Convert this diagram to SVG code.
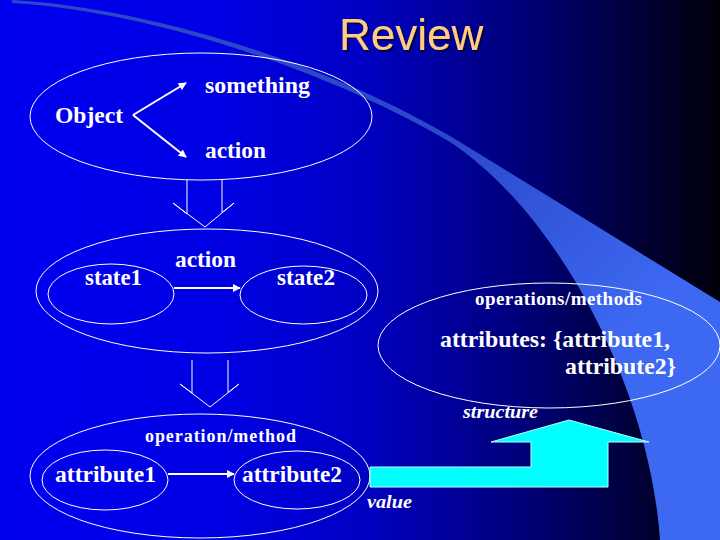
<svg xmlns="http://www.w3.org/2000/svg" width="720" height="540" viewBox="0 0 720 540">
  <defs>
    <linearGradient id="bg" x1="0" y1="0" x2="1" y2="0">
      <stop offset="0" stop-color="#0000f0"/>
      <stop offset="0.3" stop-color="#0000e4"/>
      <stop offset="0.5" stop-color="#0000c4"/>
      <stop offset="0.75" stop-color="#000070"/>
      <stop offset="0.9" stop-color="#000030"/>
      <stop offset="1" stop-color="#000008"/>
    </linearGradient>
    <linearGradient id="sweep" gradientUnits="userSpaceOnUse" x1="450" y1="140" x2="640" y2="320">
      <stop offset="0" stop-color="#2a48c8"/>
      <stop offset="1" stop-color="#3d68f2"/>
    </linearGradient>
    <marker id="ah" viewBox="0 0 10 10" refX="9" refY="5" markerWidth="4" markerHeight="4" orient="auto" markerUnits="strokeWidth">
      <path d="M0,0 L10,5 L0,10 z" fill="#ffffff"/>
    </marker>
    <filter id="shadow" x="-10%" y="-10%" width="130%" height="140%">
      <feDropShadow dx="2" dy="2" stdDeviation="0.6" flood-color="#000030" flood-opacity="0.8"/>
    </filter>
    <style>
      .ell { fill: none; stroke: #ffffff; stroke-width: 1; }
      .lbl { font-family: "Liberation Serif", "Times New Roman", serif; font-weight: bold; fill: #ffffff; }
      .it { font-family: "Liberation Serif", "Times New Roman", serif; font-weight: bold; font-style: italic; fill: #ffffff; font-size: 19px; }
      .arr { fill: none; stroke: #ffffff; stroke-width: 2; marker-end: url(#ah); }
      .big { fill: none; stroke: #ffffff; stroke-width: 1; }
    </style>
  </defs>

  <rect x="0" y="0" width="720" height="540" fill="url(#bg)"/>
  <path d="M12,0 C150,8 330,64 455,139 L720,302 L720,540 L660,540 C650,390 560,215 450,142 C330,71 150,11 12,3 Z" fill="url(#sweep)"/>

  <text x="339" y="50" font-family="Liberation Sans, Arial, sans-serif" font-size="44" fill="#ffcc80" filter="url(#shadow)">Review</text>

  <g id="object-node">
    <ellipse class="ell" cx="201" cy="116.5" rx="171" ry="63.5"/>
    <text class="lbl" x="55" y="123" font-size="24" textLength="68" lengthAdjust="spacingAndGlyphs">Object</text>
    <text class="lbl" x="205" y="93" font-size="24" textLength="105" lengthAdjust="spacingAndGlyphs">something</text>
    <text class="lbl" x="205" y="158" font-size="24" textLength="61" lengthAdjust="spacingAndGlyphs">action</text>
  </g>

  <g id="state-node">
    <ellipse class="ell" cx="207" cy="291" rx="171" ry="62"/>
    <text class="lbl" x="175" y="267" font-size="24" textLength="61" lengthAdjust="spacingAndGlyphs">action</text>
  </g>
  <g id="state1">
    <ellipse class="ell" cx="111" cy="294" rx="63" ry="30"/>
    <text class="lbl" x="85" y="285" font-size="24" textLength="57" lengthAdjust="spacingAndGlyphs">state1</text>
  </g>
  <g id="state2">
    <ellipse class="ell" cx="303.5" cy="295" rx="63.5" ry="29"/>
    <text class="lbl" x="277" y="285" font-size="24" textLength="58" lengthAdjust="spacingAndGlyphs">state2</text>
  </g>

  <g id="class-node">
    <ellipse class="ell" cx="549" cy="345.5" rx="171" ry="62.5"/>
    <text class="lbl" x="475" y="305" font-size="19" textLength="167" lengthAdjust="spacing">operations/methods</text>
    <text class="lbl" x="440" y="347" font-size="24" textLength="230" lengthAdjust="spacingAndGlyphs">attributes: {attribute1,</text>
    <text class="lbl" x="565" y="374" font-size="24" textLength="111" lengthAdjust="spacingAndGlyphs">attribute2}</text>
  </g>

  <g id="object-instance">
    <ellipse class="ell" cx="200" cy="476" rx="170" ry="62"/>
    <text class="lbl" x="145" y="442" font-size="18" textLength="151" lengthAdjust="spacing">operation/method</text>
  </g>
  <g id="attribute1">
    <ellipse class="ell" cx="105" cy="480" rx="63" ry="30"/>
    <text class="lbl" x="55" y="482" font-size="24" textLength="101" lengthAdjust="spacingAndGlyphs">attribute1</text>
  </g>
  <g id="attribute2">
    <ellipse class="ell" cx="297" cy="480" rx="63" ry="29"/>
    <text class="lbl" x="242" y="482" font-size="24" textLength="100" lengthAdjust="spacingAndGlyphs">attribute2</text>
  </g>

  <g id="connectors">
    <line class="arr" x1="133" y1="115" x2="186" y2="83"/>
    <line class="arr" x1="133" y1="115" x2="186" y2="157"/>
    <line class="arr" x1="174" y1="288" x2="240" y2="288"/>
    <line class="arr" x1="168" y1="474" x2="234" y2="474"/>
    <path class="big" d="M187,180 L187,214 L173,203 L205,227 L234,203 L222,212.5 L222,180"/>
    <path class="big" d="M192,360 L192,393 L180,384 L210,407 L239,384 L228,392.5 L228,360"/>
    <polygon points="569,420 649,442 608,442 608,487 370,487 370,467 531,467 531,442 491,442" fill="#00ffff" stroke="#c0ffff" stroke-width="1"/>
  </g>

  <g id="cyan-labels">
    <text class="it" x="463" y="418" textLength="75" lengthAdjust="spacingAndGlyphs">structure</text>
    <text class="it" x="367" y="508" textLength="45" lengthAdjust="spacingAndGlyphs">value</text>
  </g>
</svg>
